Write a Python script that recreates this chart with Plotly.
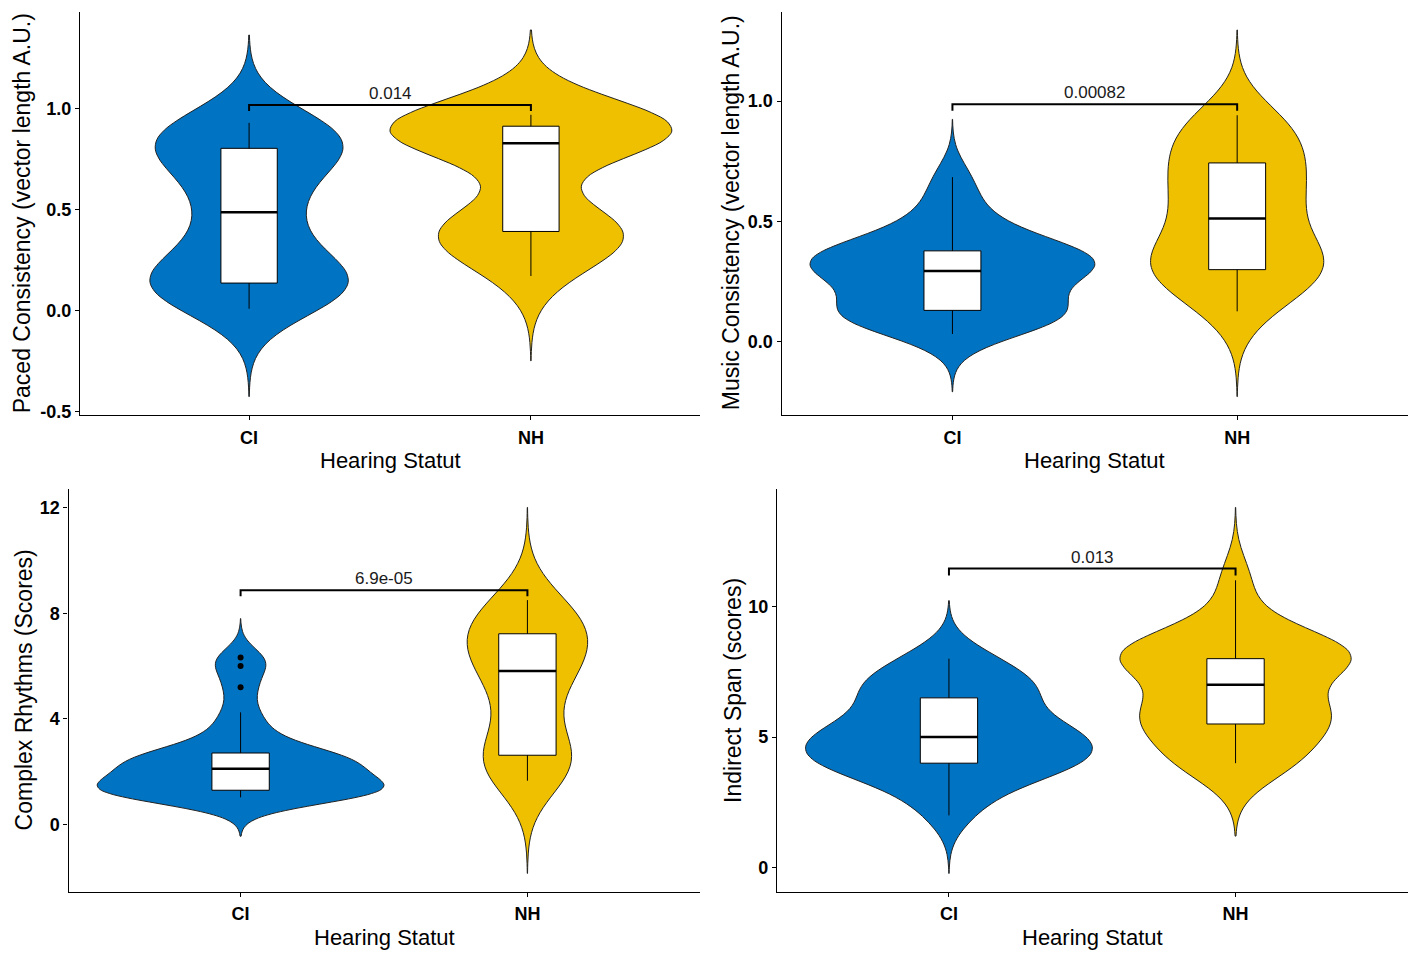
import numpy as np
import plotly.graph_objects as go

W, H = 1412, 958

# ---------------- data ----------------
GROUPS = ["CI", "NH"]
COLORS = ["#0073C2", "#EFC000"]

paced_ci = [0.01, 0.07, 0.10, 0.12, 0.13, 0.135, 0.143, 0.18, 0.23, 0.31, 0.39,
            0.487,
            0.53, 0.62, 0.71, 0.76, 0.78, 0.812, 0.84, 0.87, 0.89, 0.91, 0.93]
paced_nh = [0.172, 0.29, 0.32, 0.35, 0.38, 0.43, 0.44, 0.45, 0.81, 0.829,
            0.85, 0.87, 0.89, 0.90, 0.918, 0.93, 0.94, 0.955, 0.97]

music_ci = [0.033, 0.07, 0.09, 0.10, 0.115, 0.125, 0.133, 0.15, 0.19, 0.24,
            0.27, 0.285, 0.294, 0.31, 0.325, 0.335, 0.345, 0.36, 0.374, 0.39,
            0.41, 0.45, 0.50, 0.58, 0.684]
music_nh = [0.127, 0.21, 0.26, 0.29, 0.30, 0.34, 0.37, 0.41, 0.47, 0.555,
            0.59, 0.63, 0.70, 0.743, 0.79, 0.85, 0.90, 0.941]

rhythm_ci = [1.03, 1.06, 1.10, 1.15, 1.22, 1.27, 1.30, 1.38, 1.47, 1.58, 1.72,
             1.90, 2.05, 2.17, 2.30, 2.40, 2.50, 2.58, 2.66, 2.71, 3.2, 3.6,
             4.25, 5.2, 6.0, 6.33]
rhythm_nh = [1.66, 2.0, 2.3, 2.5, 2.6, 2.65, 3.6, 4.6, 5.2, 5.6, 6.04, 6.3,
             6.6, 6.9, 7.15, 7.3, 7.6, 7.9, 8.2, 8.5]

span_ci = [2, 3, 3, 4, 4, 4, 4, 4, 4, 5, 5, 5, 5, 5, 5, 6, 6, 6, 7, 7, 7, 7, 8, 8]
span_nh = [4, 4, 4, 5, 5, 6, 6, 6, 6, 6, 8, 8, 8, 8, 8, 8, 8, 9, 9, 11]

# kernel bandwidths
kde_bw = [[0.145, 0.14], [0.08, 0.118], [0.49, 1.17], [0.74, 0.93]]

p_values = ["0.014", "0.00082", "6.9e-05", "0.013"]
y_titles = ["Paced Consistency (vector length A.U.)",
            "Music Consistency (vector length A.U.)",
            "Complex Rhythms (Scores)",
            "Indirect Span (scores)"]
x_title = "Hearing Statut"
y_tick_vals = [[-0.5, 0.0, 0.5, 1.0], [0.0, 0.5, 1.0], [0, 4, 8, 12], [0, 5, 10]]
y_tick_text = [["-0.5", "0.0", "0.5", "1.0"], ["0.0", "0.5", "1.0"],
               ["0", "4", "8", "12"], ["0", "5", "10"]]

# ---------------- layout geometry (pixels) ----------------
panels = [
    dict(data=[paced_ci, paced_nh], box=(80, 11.7, 700, 418), ytx=22),
    dict(data=[music_ci, music_nh], box=(781.6, 11.7, 1408, 418), ytx=731),
    dict(data=[rhythm_ci, rhythm_nh], box=(68.5, 492.7, 699.5, 898.3), ytx=24),
    dict(data=[span_ci, span_nh], box=(777, 492.7, 1407.5, 898.3), ytx=733.5),
]

FONT = "Liberation Sans, Arial, sans-serif"
MAX_VIOLIN_WIDTH = 1.0


def kde_peak(d, bw, lo, hi):
    g = np.linspace(lo, hi, 2048)
    f = np.exp(-0.5 * ((g[:, None] - d[None, :]) / bw) ** 2).sum(axis=1)
    return f.max() / (len(d) * bw * np.sqrt(2 * np.pi))


fig = go.Figure()
shapes, annotations = [], []
layout = {}

for k, pan in enumerate(panels):
    n = k + 1
    xa = "x" if n == 1 else f"x{n}"
    ya = "y" if n == 1 else f"y{n}"
    x0p, y0p, x1p, y1p = pan["box"]
    arrs = [np.asarray(d, dtype=float) for d in pan["data"]]
    spans = [(d.min() - 3 * kde_bw[k][i], d.max() + 3 * kde_bw[k][i])
             for i, d in enumerate(arrs)]
    peaks = [kde_peak(d, kde_bw[k][i], *spans[i]) for i, d in enumerate(arrs)]
    pmax = max(peaks)
    for gi, (g, d) in enumerate(zip(GROUPS, arrs)):
        bw = kde_bw[k][gi]
        lo, hi = spans[gi]
        pos = gi + 1
        fig.add_trace(go.Violin(
            x0=pos, y=d, xaxis=xa, yaxis=ya,
            width=MAX_VIOLIN_WIDTH * peaks[gi] / pmax,
            scalegroup=f"p{n}{g}", scalemode="width", bandwidth=bw,
            spanmode="manual", span=[lo, hi], side="both",
            fillcolor=COLORS[gi], line=dict(color="#222222", width=1),
            points=False, box_visible=False, meanline_visible=False,
            opacity=1, hoverinfo="skip", showlegend=False, name=g))
        fig.add_trace(go.Box(
            x0=pos, y=d, xaxis=xa, yaxis=ya, width=0.2,
            quartilemethod="linear", boxpoints="outliers", jitter=0, pointpos=0,
            whiskerwidth=0, fillcolor="white",
            line=dict(color="black", width=1),
            marker=dict(color="black", size=6, line=dict(width=0)),
            hoverinfo="skip", showlegend=False, name=g))
        med = float(np.median(d))
        fig.add_trace(go.Scatter(
            x=[pos - 0.1, pos + 0.1], y=[med, med], xaxis=xa, yaxis=ya,
            mode="lines", line=dict(color="black", width=2.5),
            hoverinfo="skip", showlegend=False))
    lo = min(s[0] for s in spans)
    hi = max(s[1] for s in spans)
    pad = 0.05 * (hi - lo)
    yr = [lo - pad, hi + pad]

    alld = np.concatenate(arrs)
    drange = alld.max() - alld.min()
    by = alld.max() + 0.05 * drange
    tip = 0.03 * drange
    shapes.append(dict(type="path", xref=xa, yref=ya,
                       path=f"M 1,{by - tip} L 1,{by} L 2,{by} L 2,{by - tip}",
                       line=dict(color="black", width=2)))
    annotations.append(dict(xref=xa, yref=ya, x=1.5, y=by, text=p_values[k],
                            showarrow=False, yanchor="bottom", xanchor="center",
                            font=dict(family=FONT, size=17, color="#1a1a1a")))
    annotations.append(dict(xref="paper", yref="paper",
                            x=(x0p + x1p) / 2 / W, y=1 - (y1p + 46) / H,
                            text=x_title, showarrow=False, xanchor="center",
                            yanchor="middle",
                            font=dict(family=FONT, size=22, color="black")))
    annotations.append(dict(xref="paper", yref="paper",
                            x=pan["ytx"] / W, y=1 - (y0p + y1p) / 2 / H,
                            text=y_titles[k], showarrow=False, textangle=-90,
                            xanchor="center", yanchor="middle",
                            font=dict(family=FONT, size=23, color="black")))

    axcommon = dict(showline=True, linecolor="black", linewidth=1.2,
                    ticks="outside", ticklen=4, tickwidth=1.2, tickcolor="black",
                    showgrid=False, zeroline=False, fixedrange=True,
                    tickfont=dict(family=FONT, size=18, color="black",
                                  weight="bold"))
    layout["xaxis" if n == 1 else f"xaxis{n}"] = dict(
        domain=[x0p / W, x1p / W], range=[0.4, 2.6], tickvals=[1, 2],
        ticktext=GROUPS, anchor=ya, ticklabelstandoff=2, **axcommon)
    layout["yaxis" if n == 1 else f"yaxis{n}"] = dict(
        domain=[1 - y1p / H, 1 - y0p / H], range=yr,
        tickvals=y_tick_vals[k], ticktext=y_tick_text[k], anchor=xa, **axcommon)

fig.update_layout(
    width=W, height=H, margin=dict(l=0, r=0, t=0, b=0),
    paper_bgcolor="white", plot_bgcolor="white",
    violinmode="overlay", boxmode="overlay", showlegend=False,
    font=dict(family=FONT), shapes=shapes, annotations=annotations, **layout)

fig.write_html("out.html", config={"displayModeBar": False},
               post_script="document.body.style.margin='0px';")
